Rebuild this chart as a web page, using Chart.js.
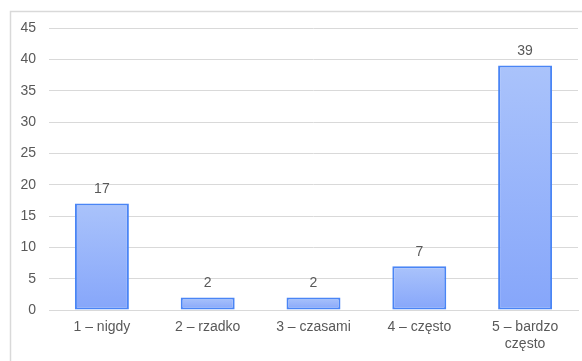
<!DOCTYPE html>
<html>
<head>
<meta charset="utf-8">
<script src="https://cdn.jsdelivr.net/npm/chart.js@4/dist/chart.umd.min.js"></script>
<style>
  html, body { margin: 0; padding: 0; background: #fff; overflow: hidden; }
  canvas { display: block; }
</style>
</head>
<body>
<canvas id="myChart" width="582" height="361"></canvas>
<script>
// Data
const categories = ["1 – nigdy", "2 – rzadko", "3 – czasami", "4 – często", ["5 – bardzo", "często"]];
const values = [17, 2, 2, 7, 39];
const yTicks = [0, 5, 10, 15, 20, 25, 30, 35, 40, 45];

const textColor = "#595959";
const gridColor = "#d9d9d9";
const fontFamily = "Arial, 'Liberation Sans', sans-serif";

// frame around the chart (left + top edge only visible)
const framePlugin = {
  id: "frame",
  beforeDraw(chart) {
    const c = chart.ctx;
    c.save();
    c.strokeStyle = gridColor;
    c.lineWidth = 1.5;
    c.beginPath();
    c.moveTo(10.5, 361);
    c.lineTo(10.5, 11.5);
    c.lineTo(582, 11.5);
    c.stroke();
    c.restore();
  },
};

// value labels above bars
const valueLabels = {
  id: "valueLabels",
  afterDatasetsDraw(chart) {
    const c = chart.ctx;
    const meta = chart.getDatasetMeta(0);
    c.save();
    c.fillStyle = textColor;
    c.font = "14px " + fontFamily;
    c.textAlign = "center";
    c.textBaseline = "bottom";
    meta.data.forEach((bar, i) => {
      c.fillText(String(values[i]), bar.x, bar.y - 7);
    });
    c.restore();
  },
};

function barGradient(context) {
  const chart = context.chart;
  const y = chart.scales.y;
  if (!y || context.dataIndex === undefined) return "#95b3f9";
  const v = context.dataset.data[context.dataIndex];
  const top = y.getPixelForValue(v);
  const bottom = y.getPixelForValue(0);
  if (!isFinite(top) || !isFinite(bottom) || top === bottom) return "#95b3f9";
  const g = chart.ctx.createLinearGradient(0, top, 0, bottom);
  g.addColorStop(0, "#aac3fb");
  g.addColorStop(1, "#86a6fa");
  return g;
}

new Chart(document.getElementById("myChart"), {
  type: "bar",
  data: {
    labels: categories,
    datasets: [
      {
        data: values,
        backgroundColor: barGradient,
        borderColor: "#4a85f5",
        borderWidth: 2,
        borderSkipped: false,
        categoryPercentage: 1,
        barPercentage: 0.51,
      },
    ],
  },
  options: {
    responsive: false,
    animation: false,
    devicePixelRatio: 1,
    layout: { padding: { left: 0, right: 4, top: 28, bottom: 0 } },
    plugins: {
      legend: { display: false },
      tooltip: { enabled: false },
    },
    scales: {
      x: {
        grid: { display: false, drawTicks: false },
        border: { display: true, color: gridColor, width: 1 },
        ticks: {
          color: textColor,
          font: { size: 14, family: fontFamily },
          padding: 9,
          maxRotation: 0,
          autoSkip: false,
        },
        afterFit(scale) { scale.height = 51; },
      },
      y: {
        min: 0,
        max: 45,
        afterBuildTicks(scale) { scale.ticks = yTicks.map((v) => ({ value: v })); },
        grid: { color: gridColor, lineWidth: 1, drawTicks: false },
        border: { display: false },
        ticks: {
          color: textColor,
          font: { size: 14, family: fontFamily },
          padding: 13,
          autoSkip: false,
        },
        afterFit(scale) { scale.width = 49; },
      },
    },
  },
  plugins: [framePlugin, valueLabels],
});
</script>
</body>
</html>
